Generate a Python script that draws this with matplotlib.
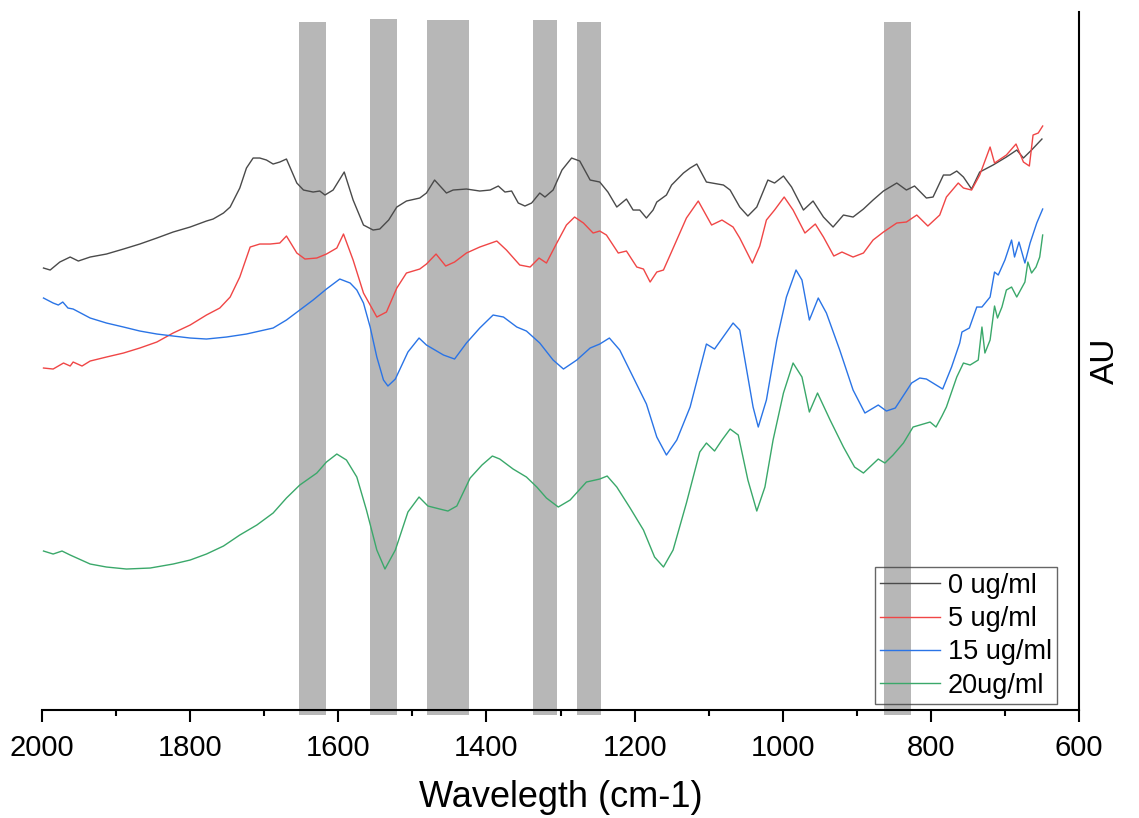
#%%
# FTIR spectra, 2000-650 cm-1, four concentrations with marked bands
import matplotlib
matplotlib.use("Agg")
import matplotlib.pyplot as plt
from matplotlib.ticker import MultipleLocator

plt.rcParams['font.family'] = ['Liberation Sans', 'DejaVu Sans']

#%% data
wn_0 = [1998, 1989, 1976, 1962, 1951, 1935, 1913, 1890, 1868, 1845, 1823, 1800,
        1778, 1769, 1755, 1746, 1733, 1724, 1715, 1706, 1697, 1688, 1679, 1670,
        1656, 1647, 1634, 1625, 1618, 1607, 1592, 1580, 1566, 1553, 1544, 1532,
        1521, 1508, 1490, 1481, 1470, 1454, 1445, 1427, 1409, 1395, 1384, 1375,
        1366, 1357, 1348, 1339, 1328, 1321, 1310, 1298, 1285, 1274, 1260, 1247,
        1236, 1224, 1211, 1202, 1193, 1184, 1175, 1170, 1157, 1150, 1134, 1125,
        1116, 1103, 1080, 1071, 1058, 1047, 1035, 1020, 1011, 999, 988, 972,
        959, 945, 932, 918, 905, 891, 878, 864, 846, 833, 822, 806, 797, 783,
        774, 765, 756, 745, 734, 716, 698, 684, 675, 664, 650]
au_0 = [4.42, 4.40, 4.48, 4.53, 4.49, 4.53, 4.56, 4.61, 4.66, 4.72, 4.78, 4.83,
        4.89, 4.91, 4.97, 5.03, 5.22, 5.42, 5.52, 5.52, 5.50, 5.46, 5.48, 5.51,
        5.27, 5.20, 5.18, 5.19, 5.15, 5.20, 5.38, 5.10, 4.85, 4.80, 4.81, 4.90,
        5.03, 5.09, 5.12, 5.17, 5.30, 5.17, 5.20, 5.21, 5.19, 5.20, 5.24, 5.18,
        5.19, 5.07, 5.04, 5.07, 5.17, 5.13, 5.20, 5.40, 5.52, 5.49, 5.30, 5.28,
        5.18, 5.03, 5.11, 5.00, 5.00, 4.92, 5.00, 5.08, 5.15, 5.25, 5.37, 5.42,
        5.46, 5.28, 5.25, 5.20, 5.03, 4.94, 5.03, 5.30, 5.27, 5.34, 5.23, 5.00,
        5.09, 4.93, 4.83, 4.95, 4.93, 5.01, 5.10, 5.19, 5.27, 5.20, 5.24, 5.12,
        5.13, 5.35, 5.35, 5.39, 5.33, 5.21, 5.38, 5.45, 5.53, 5.60, 5.52, 5.60,
        5.71]

wn_5 = [1998, 1985, 1971, 1962, 1958, 1946, 1935, 1913, 1890, 1868, 1845, 1823,
        1800, 1778, 1760, 1746, 1733, 1719, 1706, 1692, 1679, 1670, 1656, 1645,
        1629, 1616, 1602, 1593, 1580, 1566, 1548, 1535, 1521, 1508, 1490, 1481,
        1468, 1455, 1443, 1427, 1409, 1386, 1373, 1355, 1341, 1329, 1319, 1305,
        1292, 1281, 1269, 1256, 1247, 1238, 1222, 1211, 1197, 1188, 1179, 1170,
        1161, 1152, 1130, 1114, 1096, 1082, 1067, 1058, 1041, 1031, 1022, 1011,
        998, 986, 970, 956, 945, 931, 920, 905, 891, 878, 864, 846, 833, 819,
        804, 788, 779, 763, 756, 745, 734, 720, 714, 698, 685, 675, 667, 662,
        655, 649]
au_5 = [3.42, 3.41, 3.47, 3.44, 3.48, 3.44, 3.49, 3.53, 3.57, 3.62, 3.68, 3.77,
        3.85, 3.95, 4.02, 4.13, 4.33, 4.63, 4.66, 4.66, 4.67, 4.74, 4.57, 4.51,
        4.52, 4.56, 4.62, 4.76, 4.50, 4.17, 3.93, 3.98, 4.22, 4.37, 4.41, 4.46,
        4.56, 4.44, 4.48, 4.57, 4.63, 4.69, 4.60, 4.45, 4.43, 4.52, 4.47, 4.67,
        4.85, 4.93, 4.87, 4.77, 4.79, 4.75, 4.57, 4.59, 4.43, 4.41, 4.28, 4.38,
        4.40, 4.55, 4.92, 5.09, 4.85, 4.90, 4.83, 4.72, 4.47, 4.64, 4.90, 5.00,
        5.13, 5.00, 4.77, 4.86, 4.73, 4.54, 4.58, 4.53, 4.57, 4.70, 4.78, 4.87,
        4.88, 4.95, 4.84, 4.95, 5.13, 5.27, 5.22, 5.20, 5.35, 5.63, 5.47, 5.55,
        5.66, 5.48, 5.44, 5.75, 5.77, 5.84]

wn_15 = [1998, 1985, 1978, 1972, 1965, 1958, 1935, 1913, 1890, 1868, 1845, 1823,
         1800, 1778, 1751, 1724, 1706, 1688, 1670, 1652, 1634, 1616, 1598, 1584,
         1575, 1566, 1557, 1548, 1539, 1533, 1523, 1506, 1491, 1481, 1458, 1443,
         1427, 1409, 1391, 1377, 1359, 1346, 1328, 1310, 1296, 1278, 1260, 1247,
         1234, 1220, 1202, 1184, 1170, 1157, 1143, 1125, 1103, 1092, 1067, 1058,
         1040, 1033, 1022, 1008, 995, 982, 974, 964, 952, 941, 923, 905, 889,
         871, 860, 848, 826, 815, 806, 784, 772, 761, 758, 748, 738, 731, 720,
         714, 709, 700, 691, 687, 681, 673, 666, 657, 649]
au_15 = [4.12, 4.07, 4.05, 4.08, 4.02, 4.01, 3.92, 3.87, 3.83, 3.79, 3.76, 3.74,
         3.72, 3.71, 3.73, 3.76, 3.79, 3.82, 3.90, 4.00, 4.10, 4.21, 4.31, 4.27,
         4.20, 4.07, 3.83, 3.53, 3.30, 3.24, 3.31, 3.58, 3.72, 3.65, 3.55, 3.51,
         3.67, 3.82, 3.95, 3.93, 3.83, 3.79, 3.67, 3.50, 3.41, 3.50, 3.62, 3.66,
         3.72, 3.60, 3.33, 3.06, 2.73, 2.55, 2.70, 3.03, 3.66, 3.61, 3.87, 3.80,
         3.03, 2.83, 3.10, 3.70, 4.13, 4.40, 4.30, 3.90, 4.12, 3.97, 3.60, 3.20,
         2.97, 3.05, 2.99, 3.02, 3.27, 3.32, 3.31, 3.21, 3.43, 3.67, 3.78, 3.82,
         4.03, 4.03, 4.13, 4.38, 4.35, 4.50, 4.70, 4.53, 4.68, 4.47, 4.67, 4.87,
         5.01]

wn_20 = [1998, 1985, 1973, 1962, 1935, 1913, 1886, 1854, 1823, 1800, 1778, 1755,
         1733, 1710, 1688, 1670, 1652, 1629, 1616, 1602, 1589, 1575, 1562, 1548,
         1537, 1523, 1506, 1491, 1479, 1463, 1452, 1440, 1422, 1406, 1392, 1382,
         1364, 1346, 1332, 1319, 1303, 1287, 1265, 1247, 1237, 1224, 1206, 1188,
         1173, 1161, 1148, 1130, 1112, 1103, 1092, 1082, 1071, 1060, 1047, 1035,
         1024, 1013, 999, 986, 974, 964, 953, 936, 918, 903, 891, 871, 862, 851,
         837, 824, 801, 793, 785, 779, 765, 756, 747, 736, 731, 727, 720, 714,
         710, 704, 698, 691, 684, 673, 669, 664, 658, 653, 649]
au_20 = [1.59, 1.56, 1.59, 1.55, 1.46, 1.43, 1.41, 1.42, 1.46, 1.50, 1.56, 1.64,
         1.75, 1.85, 1.97, 2.12, 2.25, 2.37, 2.48, 2.56, 2.50, 2.33, 2.00, 1.60,
         1.41, 1.60, 1.98, 2.13, 2.04, 2.01, 1.99, 2.04, 2.32, 2.45, 2.54, 2.51,
         2.41, 2.33, 2.23, 2.12, 2.03, 2.10, 2.28, 2.31, 2.34, 2.23, 2.02, 1.80,
         1.53, 1.43, 1.60, 2.07, 2.58, 2.67, 2.59, 2.70, 2.81, 2.75, 2.30, 1.99,
         2.23, 2.70, 3.17, 3.47, 3.33, 2.98, 3.17, 2.90, 2.63, 2.43, 2.37, 2.51,
         2.47, 2.55, 2.67, 2.83, 2.88, 2.83, 2.94, 3.03, 3.33, 3.47, 3.45, 3.50,
         3.83, 3.57, 3.70, 4.04, 3.92, 4.03, 4.20, 4.23, 4.13, 4.28, 4.48, 4.37,
         4.43, 4.53, 4.75]

labels = ['0 ug/ml', '5 ug/ml', '15 ug/ml', '20ug/ml']
colors = ['#4a4a4a', '#f04646', '#2a74e6', '#3aa86a']

# marked bands (cm-1) and their top
band_hi = [1653, 1557, 1480, 1337, 1278, 863]
band_lo = [1617, 1521, 1424, 1305, 1245, 827]
band_top = [6.88, 6.91, 6.90, 6.90, 6.88, 6.88]

#%% plot
fig = plt.figure(figsize=(11.39, 8.18), dpi=100)
ax = fig.add_axes([0.0369, 0.132, 0.9104, 0.8533])

for hi, lo, top in zip(band_hi, band_lo, band_top):
    ax.bar((hi + lo) / 2, top + 0.05, width=hi - lo, bottom=-0.05,
           color='#b7b7b7', linewidth=0, zorder=1, clip_on=False)

series = [(wn_0, au_0), (wn_5, au_5), (wn_15, au_15), (wn_20, au_20)]
for (x, y), lab, c in zip(series, labels, colors):
    ax.plot(x, y, color=c, lw=1.0, label=lab, zorder=3)

ax.set_xlim(2000, 600)
ax.set_ylim(0, 6.98)
ax.xaxis.set_major_locator(MultipleLocator(200))
ax.xaxis.set_minor_locator(MultipleLocator(100))
ax.tick_params(axis='x', which='major', direction='out', length=8.5, width=1.5,
               labelsize=21, pad=9)
ax.tick_params(axis='x', which='minor', direction='out', length=4, width=1.5)
ax.set_yticks([])

ax.spines['left'].set_visible(False)
ax.spines['top'].set_visible(False)
ax.spines['right'].set_linewidth(1.5)
ax.spines['bottom'].set_linewidth(1.5)

ax.set_xlabel('Wavelegth (cm-1)', fontsize=26, labelpad=13)
ax.yaxis.set_label_position('right')
ax.set_ylabel('AU', fontsize=24, labelpad=8)

leg = ax.legend(loc='lower right', bbox_to_anchor=(0.979, 0.0086), borderaxespad=0,
                fontsize=19.5, labelspacing=0.27, handlelength=2.2, handletextpad=0.3,
                borderpad=0.2, fancybox=False, frameon=True)
leg.get_frame().set_edgecolor('#404040')
leg.get_frame().set_linewidth(1.0)
leg.get_frame().set_facecolor('none')

fig.savefig('out.png', dpi=100)
